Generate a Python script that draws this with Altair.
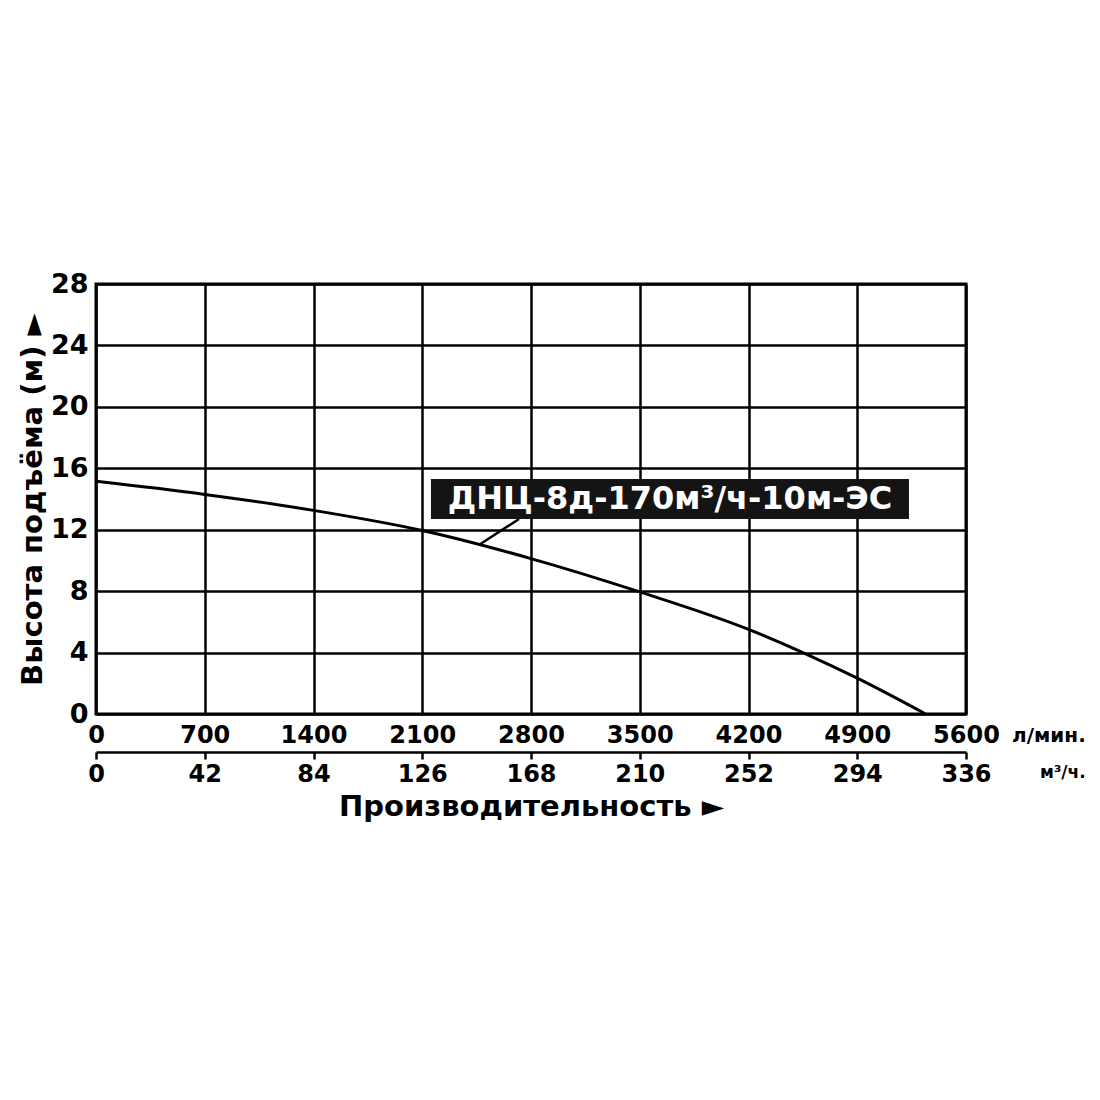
import altair as alt
import pandas as pd

FONT = "DejaVu Sans"
INK = "black"

# pump curve: flow in l/min, head in m
flow_lpm = [0, 700, 1400, 2100, 2800, 3500, 4200, 4550, 4900, 5340]
head_m = [15.15, 14.3, 13.26, 11.95, 10.12, 7.95, 5.51, 4.0, 2.33, 0.0]

flow_ticks = [0, 700, 1400, 2100, 2800, 3500, 4200, 4900, 5600]
m3h_labels = ["0", "42", "84", "126", "168", "210", "252", "294", "336"]
head_ticks = [0, 4, 8, 12, 16, 20, 24, 28]

curve_name = "ДНЦ-8д-170м³/ч-10м-ЭС"
label_box_x = [2156, 5233]
label_box_y = [12.7, 15.3]
label_pos = [3695, 14.0]
leader_x = [2472, 2723]
leader_y = [11.05, 12.7]

W, H = 870, 430

x_scale = alt.Scale(domain=[0, 5600], nice=False, zero=False)
y_scale = alt.Scale(domain=[0, 28], nice=False)

# second row of x labels: same ticks, shown in m3/h
m3h_expr = " : ".join(
    f"datum.value == {v} ? '{lab}'" for v, lab in zip(flow_ticks, m3h_labels)
) + " : ''"

y_axis = alt.Axis(values=head_ticks, grid=True, gridColor=INK, gridWidth=2.5,
                  gridOpacity=1, ticks=False, domain=False, labelFlush=False,
                  labelFont=FONT, labelFontWeight="bold", labelFontSize=27,
                  labelColor=INK, labelPadding=8,
                  title="Высота подъёма (м) ►", titleFont=FONT,
                  titleFontWeight="bold", titleFontSize=29, titleColor=INK,
                  titlePadding=3)

curve_df = pd.DataFrame({"flow": flow_lpm, "head": head_m})

curve = alt.Chart(curve_df).mark_line(
    color=INK, strokeWidth=3, interpolate="monotone"
).encode(
    x=alt.X("flow:Q", scale=x_scale,
            axis=alt.Axis(values=flow_ticks, format="d", grid=True, gridColor=INK,
                          gridWidth=2.5, gridOpacity=1, ticks=False, domain=False,
                          labelFlush=False, labelFont=FONT, labelFontWeight="bold",
                          labelFontSize=24, labelColor=INK, labelPadding=9, title=None)),
    y=alt.Y("head:Q", scale=y_scale, axis=y_axis),
)

m3h_axis = alt.Chart(pd.DataFrame({"flow": flow_ticks})).mark_point(opacity=0).encode(
    x=alt.X("flow:Q", scale=x_scale,
            axis=alt.Axis(orient="bottom", offset=38, values=flow_ticks, labelExpr=m3h_expr,
                          grid=False, domain=True, domainColor=INK, domainWidth=2.5,
                          ticks=True, tickColor=INK, tickWidth=2.5, tickSize=7,
                          labelFlush=False, labelFont=FONT, labelFontWeight="bold",
                          labelFontSize=24, labelColor=INK, labelPadding=3,
                          title="Производительность ►", titleFont=FONT,
                          titleFontWeight="bold", titleFontSize=29, titleColor=INK,
                          titlePadding=6)),
)

box_df = pd.DataFrame({"x": [label_box_x[0]], "x2": [label_box_x[1]],
                       "y": [label_box_y[0]], "y2": [label_box_y[1]]})
label_box = alt.Chart(box_df).mark_rect(color="#141414").encode(
    x=alt.X("x:Q", scale=x_scale, axis=None), x2="x2:Q",
    y=alt.Y("y:Q", scale=y_scale, axis=y_axis), y2="y2:Q",
)

label_text = alt.Chart(pd.DataFrame({"x": [label_pos[0]], "y": [label_pos[1]],
                                     "t": [curve_name]})).mark_text(
    font=FONT, fontWeight="bold", fontSize=32, color="white", align="center",
    baseline="middle"
).encode(
    x=alt.X("x:Q", scale=x_scale, axis=None),
    y=alt.Y("y:Q", scale=y_scale, axis=y_axis),
    text="t:N",
)

leader = alt.Chart(pd.DataFrame({"x": leader_x, "y": leader_y})).mark_line(
    color=INK, strokeWidth=2.5
).encode(
    x=alt.X("x:Q", scale=x_scale, axis=None),
    y=alt.Y("y:Q", scale=y_scale, axis=y_axis),
)

unit_df = pd.DataFrame({"x": [flow_ticks[-1]]})
unit_lpm = alt.Chart(unit_df).mark_text(
    text="л/мин.", font=FONT, fontWeight="bold", fontSize=20, color=INK,
    align="left", baseline="middle", dx=46
).encode(x=alt.X("x:Q", scale=x_scale, axis=None), y=alt.value(452))

unit_m3h = alt.Chart(unit_df).mark_text(
    text="м³/ч.", font=FONT, fontWeight="bold", fontSize=17, color=INK,
    align="left", baseline="middle", dx=74
).encode(x=alt.X("x:Q", scale=x_scale, axis=None), y=alt.value(489))

chart = alt.layer(
    curve, m3h_axis, label_box, label_text, leader, unit_lpm, unit_m3h
).resolve_axis(
    x="independent"
).properties(
    width=W, height=H,
    autosize=alt.AutoSizeParams(type="none"),
    padding={"left": 88, "top": 276, "right": 126, "bottom": 300},
    background="white",
).configure_view(
    stroke=INK, strokeWidth=3
)

chart.save("out.html", embed_options={"renderer": "svg", "actions": False})
